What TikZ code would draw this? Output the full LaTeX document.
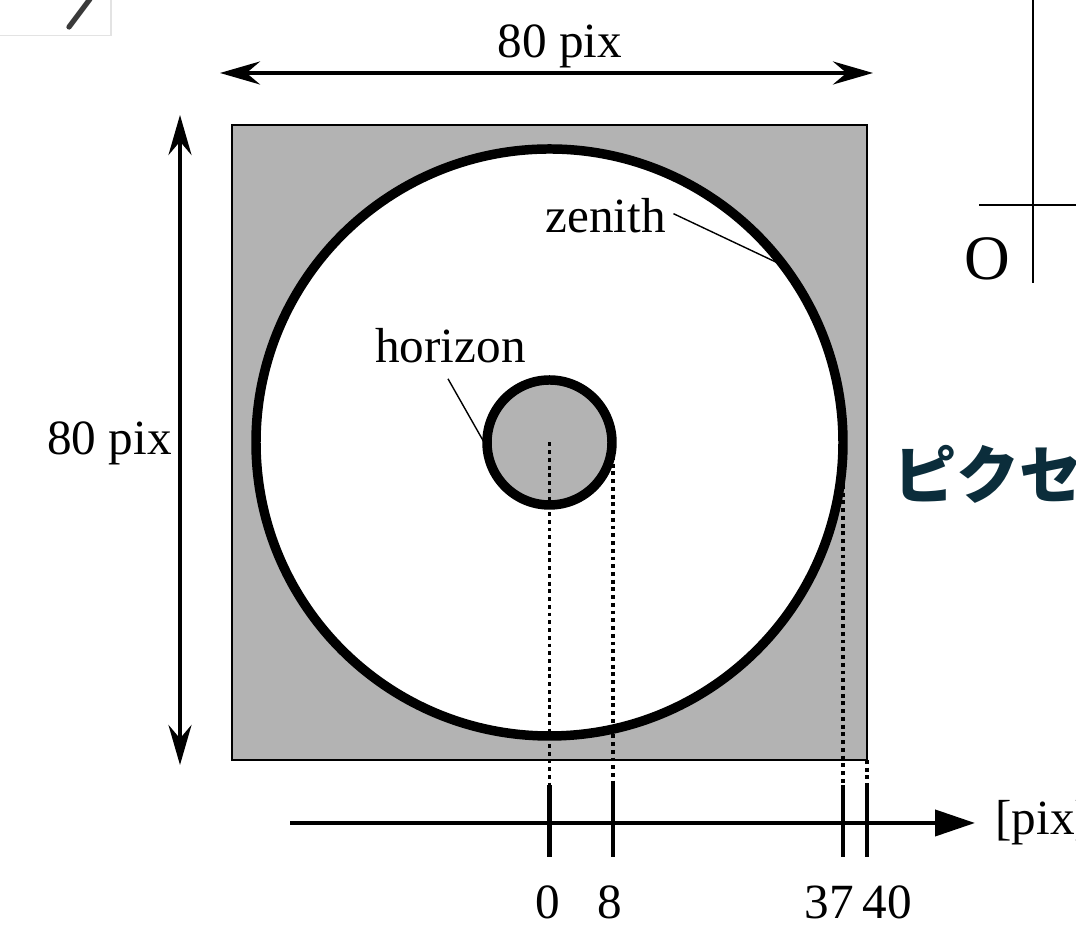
\documentclass[tikz,border=0pt]{standalone}
\usepackage{fontspec}
\setmainfont{Liberation Serif}
\newfontfamily\jpfont{Noto Sans CJK JP}
\usetikzlibrary{arrows.meta, positioning}
\usepackage{xcolor}
\definecolor{skygray}{RGB}{179,179,179}
\definecolor{darkteal}{HTML}{0B2D3B}
\definecolor{iconborder}{HTML}{E3E3E3}
\definecolor{iconpen}{HTML}{3A3A3A}

\begin{document}
\begin{tikzpicture}[
    % Estilos
    lbl/.style={
        font=\fontsize{28}{32}\selectfont,
        inner sep=0pt
    },
    ring/.style={
        circle,
        draw=black,
        line width=5.4pt,
        inner sep=0pt,
        outer sep=0pt
    },
    dimline/.style={
        {Stealth[length=0.8cm, width=0.46cm, inset=0.27cm]}-{Stealth[length=0.8cm, width=0.46cm, inset=0.27cm]},
        line width=2.2pt
    },
    axisline/.style={
        -{Triangle[length=0.8cm, width=0.52cm]},
        line width=2.3pt
    },
    tickmark/.style={
        line width=2.3pt
    },
    dotline/.style={
        line width=2.2pt,
        dash pattern=on 2.2pt off 2.2pt
    },
    leader/.style={
        line width=0.8pt
    }
]
    \useasboundingbox (0,0) rectangle (21.52,18.54);

    % ==========================================
    % 1. SKY IMAGE (square + circles)
    % ==========================================
    \coordinate (ctr) at (10.99,9.69);
    \draw[fill=skygray, line width=1.1pt] (4.64,3.34) rectangle (17.34,16.04);
    \node[ring, fill=white, minimum size=11.74cm] (zenring) at (ctr) {};
    \node[ring, fill=skygray, minimum size=2.5cm] (horring) at (ctr) {};

    % Etiquetas
    \node[lbl, anchor=base west] (zenlbl) at (10.90,13.88) {zenith};
    \node[lbl, anchor=base west] (horlbl) at (7.50,11.28) {horizon};
    \draw[leader] ([xshift=0.15cm, yshift=0.05cm]zenlbl.east) -- (zenring.37.7);
    \draw[leader] ([xshift=-0.05cm, yshift=-0.3cm]horlbl.south) -- (horring.185);

    % ==========================================
    % 2. DIMENSIONS (80 pix)
    % ==========================================
    \coordinate (topL) at (4.40,17.08);
    \coordinate (topR) at (17.46,17.08);
    \draw[dimline] (topL) -- (topR);
    \node[lbl, anchor=base] (toplbl) at (11.20,17.38) {80 pix};

    \coordinate (sideT) at (3.60,16.24);
    \coordinate (sideB) at (3.60,3.24);
    \draw[dimline] (sideT) -- (sideB);
    \node[lbl, anchor=base east] (sidelbl) at (3.44,9.44) {80 pix};

    % ==========================================
    % 3. RADIAL AXIS [pix]
    % ==========================================
    \coordinate (axL) at (5.80,2.08);
    \coordinate (axR) at (19.50,2.08);
    \draw[axisline] (axL) -- (axR);
    \node[lbl, anchor=west, right=0.4cm of axR] (unitlbl) {[pix]};

    % Marcas y proyecciones
    \foreach \v/\x/\ytop in {0/10.99/9.69, 8/12.26/9.42, 37/16.86/8.84, 40/17.34/3.34} {
        \coordinate (t\v) at (\x,2.84);
        \draw[tickmark] (\x,1.40) -- (t\v);
        \draw[dotline] (\x,\ytop) -- (t\v);
    }
    \node[lbl, anchor=base] (l0) at (10.96,0.17) {0};
    \node[lbl, anchor=base] (l8) at (12.20,0.17) {8};
    \node[lbl, anchor=base] (l37) at (16.58,0.17) {37};
    \node[lbl, anchor=base] (l40) at (17.74,0.17) {40};

    % ==========================================
    % 4. CROPPED PARTS (right + top-left)
    % ==========================================
    \coordinate (oTop) at (20.66,18.54);
    \coordinate (oBot) at (20.66,12.88);
    \coordinate (oLeft) at (19.58,14.44);
    \coordinate (oRight) at (21.52,14.44);
    \draw[line width=1.5pt] (oTop) -- (oBot);
    \draw[line width=1.5pt] (oLeft) -- (oRight);
    \node[font=\fontsize{36}{40}\selectfont, inner sep=0pt, anchor=base] (olbl) at (19.74,12.94) {O};

    \node[font=\jpfont\bfseries\fontsize{36}{42}\selectfont, text=darkteal, anchor=west, inner sep=0pt] (jplbl) at (17.86,9.06) {ピクセ};

    \draw[iconborder, line width=0.8pt] (0,17.83) -| (2.22,18.54);
    \draw[iconpen, line width=3pt, line cap=round] (1.38,18.00) -- (1.80,18.56);

\end{tikzpicture}
\end{document}
